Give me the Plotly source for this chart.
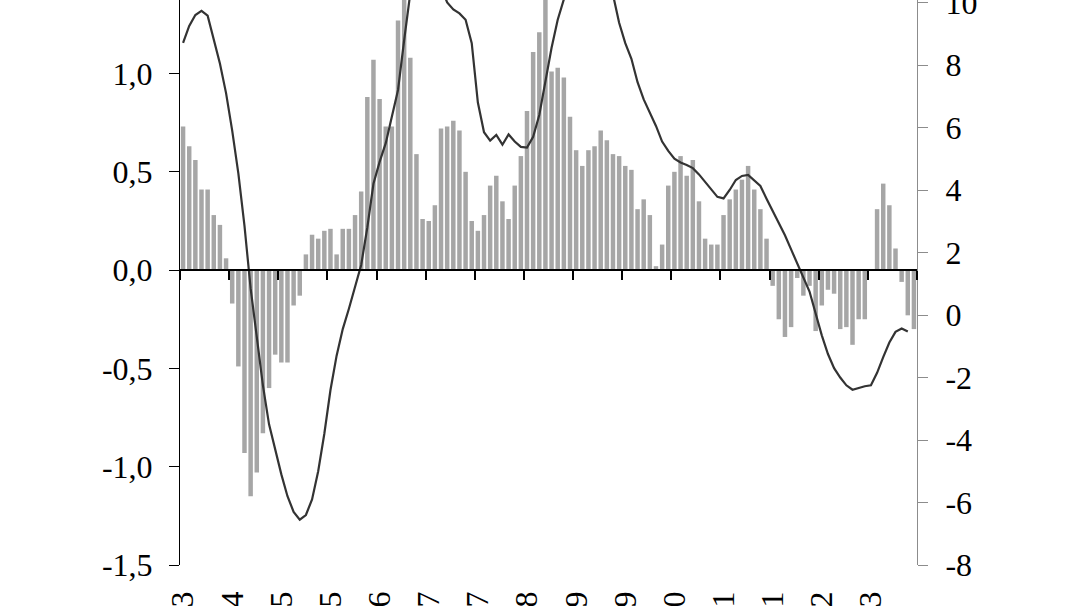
import plotly.graph_objects as go

# ---- data ----
month_abbr = ["jan", "fev", "mar", "abr", "mai", "jun", "jul", "ago", "set", "out", "nov", "dez"]
start_year, start_month = 2003, 9  # first bar: set/03
n_months = 120
months = []
for k in range(n_months):
    m = start_month - 1 + k
    months.append(f"{month_abbr[m % 12]}/{(start_year + m // 12) % 100:02d}")

bars = [0.73, 0.63, 0.56, 0.41, 0.41, 0.28, 0.23, 0.06,
        -0.17, -0.49, -0.93, -1.15, -1.03, -0.83, -0.60, -0.43,
        -0.47, -0.47, -0.18, -0.13, 0.08, 0.18, 0.16, 0.20,
        0.21, 0.08, 0.21, 0.21, 0.28, 0.40, 0.88, 1.07,
        0.87, 0.73, 0.73, 1.27, 1.45, 1.08, 0.59, 0.26,
        0.25, 0.33, 0.72, 0.73, 0.76, 0.71, 0.50, 0.25,
        0.20, 0.28, 0.43, 0.48, 0.35, 0.26, 0.43, 0.58,
        0.81, 1.11, 1.21, 1.45, 1.01, 1.03, 0.98, 0.78,
        0.61, 0.53, 0.61, 0.63, 0.71, 0.66, 0.59, 0.58,
        0.53, 0.51, 0.31, 0.36, 0.28, 0.02, 0.13, 0.43,
        0.50, 0.58, 0.48, 0.56, 0.35, 0.16, 0.13, 0.13,
        0.28, 0.36, 0.41, 0.46, 0.53, 0.41, 0.31, 0.16,
        -0.08, -0.25, -0.34, -0.29, -0.04, -0.13, -0.08, -0.31,
        -0.18, -0.10, -0.12, -0.30, -0.29, -0.38, -0.25, -0.25,
        0.00, 0.31, 0.44, 0.33, 0.11, -0.06, -0.23, -0.30]

line = [8.71, 9.25, 9.60, 9.73, 9.58, 8.85, 8.05, 7.10,
        5.90, 4.53, 2.85, 0.85, -0.69, -2.25, -3.50, -4.35,
        -5.10, -5.80, -6.30, -6.55, -6.40, -5.90, -5.00, -3.80,
        -2.40, -1.30, -0.45, 0.20, 0.90, 1.60, 2.80, 4.20,
        4.90, 5.50, 6.35, 7.20, 8.80, 10.30, 10.90, 11.20,
        11.30, 11.10, 10.50, 10.00, 9.78, 9.65, 9.45, 8.70,
        6.80, 5.85, 5.58, 5.76, 5.45, 5.78, 5.55, 5.38,
        5.36, 5.70, 6.40, 7.50, 8.55, 9.45, 10.10, 10.60,
        11.00, 11.30, 11.40, 11.30, 11.00, 10.50, 10.25, 9.35,
        8.70, 8.20, 7.45, 6.90, 6.50, 6.05, 5.55, 5.25,
        5.00, 4.88, 4.80, 4.70, 4.50, 4.25, 4.03, 3.78,
        3.73, 4.00, 4.32, 4.45, 4.48, 4.32, 4.13, 3.72,
        3.33, 2.94, 2.55, 2.10, 1.65, 1.20, 0.75, 0.05,
        -0.65, -1.25, -1.70, -2.00, -2.25, -2.39, -2.33, -2.28,
        -2.25, -1.85, -1.35, -0.88, -0.54, -0.43, -0.53, None]

left_ticks = [-1.5, -1.0, -0.5, 0.0, 0.5, 1.0]
left_tick_text = ["-1,5", "-1,0", "-0,5", "0,0", "0,5", "1,0"]
right_ticks = [-8, -6, -4, -2, 0, 2, 4, 6, 8, 10]
right_tick_text = ["-8", "-6", "-4", "-2", "0", "2", "4", "6", "8", "10"]
label_step = 8

# visible window of the (cropped) chart
left_range = [-1.5, 1.374]
right_range = [-8.0, 10.08]

# ---- figure ----
x = list(range(n_months))
font = dict(family="Liberation Serif, Times New Roman, serif", size=32, color="black")

fig = go.Figure()
fig.add_trace(go.Bar(x=x, y=bars, marker=dict(color="#a6a6a6", line=dict(width=0)),
                     xaxis="x", yaxis="y", showlegend=False))
fig.add_trace(go.Scatter(x=x, y=line, mode="lines", line=dict(color="#333333", width=2.2),
                         xaxis="x2", yaxis="y2", showlegend=False, connectgaps=False))

zero_pos = (0 - left_range[0]) / (left_range[1] - left_range[0])
xr = [-0.5, n_months - 0.5]

fig.update_layout(
    width=1078, height=606,
    margin=dict(l=180, r=161, t=0, b=41, autoexpand=False),
    paper_bgcolor="white", plot_bgcolor="white",
    bargap=0.27,
    font=font,
    xaxis=dict(range=xr, anchor="free", position=zero_pos, showline=True, linecolor="black",
               linewidth=1.5, ticks="outside", tickcolor="black", ticklen=9, tickwidth=1.5,
               tickvals=[v - 0.5 for v in range(0, n_months + 1, label_step)],
               showticklabels=False, showgrid=False, zeroline=False, automargin=False),
    xaxis2=dict(range=xr, overlaying="x", anchor="y2", side="bottom", showline=False,
                ticks="", tickvals=x[::label_step], ticktext=months[::label_step],
                tickangle=-90, tickfont=font, ticklabelstandoff=19,
                showgrid=False, zeroline=False, automargin=False),
    yaxis=dict(range=left_range, tickvals=left_ticks, ticktext=left_tick_text,
               showline=True, linecolor="black", linewidth=1, ticks="outside",
               tickcolor="black", ticklen=10, showgrid=False, zeroline=False,
               tickfont=font, ticklabelstandoff=10, automargin=False),
    yaxis2=dict(range=right_range, overlaying="y", side="right", anchor="x2",
                tickvals=right_ticks, ticktext=right_tick_text,
                showline=True, linecolor="#8c8c8c", linewidth=1, ticks="outside",
                tickcolor="#8c8c8c", ticklen=10, showgrid=False, zeroline=False,
                tickfont=font, ticklabelstandoff=11, automargin=False,
                ticklabeloverflow="allow"),
)

fig.write_html("out.html", config={"displayModeBar": False},
               post_script="document.body.style.margin='0';")
